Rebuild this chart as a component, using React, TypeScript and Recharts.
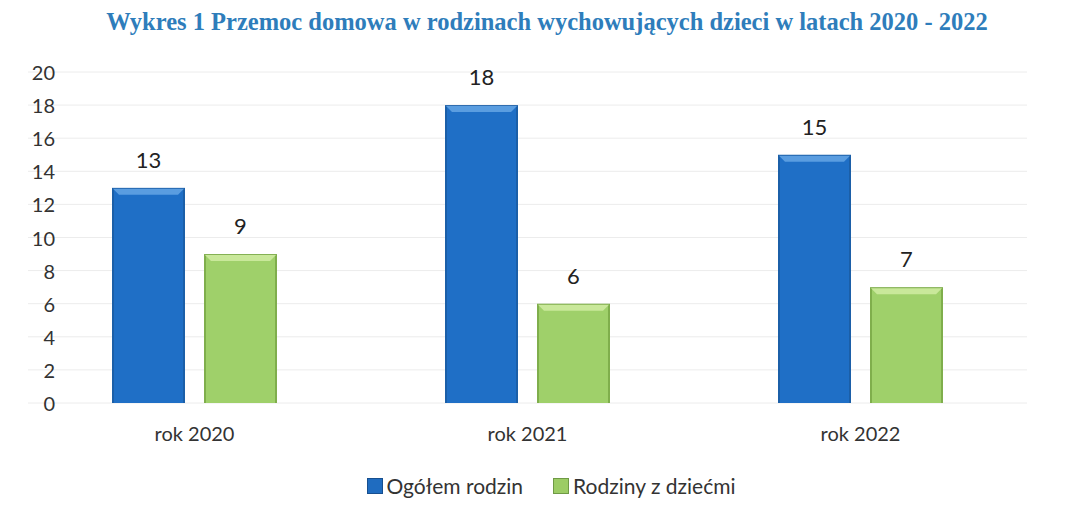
import { BarChart, Bar, XAxis, YAxis, CartesianGrid, LabelList } from "recharts"

const years = ["rok 2020", "rok 2021", "rok 2022"]
const ogolemRodzin = [13, 18, 15]
const rodzinyZDziecmi = [9, 6, 7]
const yTicks = [0, 2, 4, 6, 8, 10, 12, 14, 16, 18, 20]

const seriesNames = { ogolem: "Ogółem rodzin", dzieci: "Rodziny z dziećmi" }

const FONT = "Lato, 'Open Sans', sans-serif"

const data = years.map((year, i) => ({
  year,
  ogolem: ogolemRodzin[i],
  dzieci: rodzinyZDziecmi[i],
}))

// bevelled bar similar to the Excel "cool slant" effect
const BevelBar = (props: any) => {
  const { x, y, width, height, dark, main, light } = props
  if (!height || height <= 0) return null
  const b = 6
  return (
    <g>
      <rect x={x} y={y} width={width} height={height} fill={dark} />
      <rect x={x + 2} y={y + 2} width={width - 4} height={height - 2} fill={main} />
      <polygon
        points={`${x + 1},${y + 1} ${x + width - 1},${y + 1} ${x + width - 1 - b},${y + b + 1} ${x + 1 + b},${y + b + 1}`}
        fill={light}
      />
    </g>
  )
}

const YTick = ({ y, payload }: any) => (
  <text x={55} y={y} textAnchor="end" dominantBaseline="central" fontSize={20} fill="#333" fontFamily={FONT}>
    {payload.value}
  </text>
)

const LegendContent = () => (
  <div style={{ display: "flex", justifyContent: "center", gap: 30, fontFamily: FONT, fontSize: 21, color: "#333" }}>
    {[
      { name: seriesNames.ogolem, color: "#1f6cc0", edge: "#174f8f" },
      { name: seriesNames.dzieci, color: "#9ccc65", edge: "#6f9a45" },
    ].map((it) => (
      <div key={it.name} style={{ display: "flex", alignItems: "center", gap: 4 }}>
        <span style={{ display: "inline-block", width: 14, height: 14, background: it.color, border: `1px solid ${it.edge}` }} />
        <span>{it.name}</span>
      </div>
    ))}
  </div>
)

export default function App() {
  return (
    <div style={{ margin: -8, width: 1090, height: 517, background: "#fff", position: "relative" }}>
      <div
        style={{
          position: "absolute",
          top: 8,
          left: 0,
          width: 1094,
          textAlign: "center",
          fontFamily: "'Liberation Serif', 'Times New Roman', serif",
          fontWeight: "bold",
          fontSize: 24.5,
          color: "#2e7dbb",
          zIndex: 1,
        }}
      >
        Wykres 1 Przemoc domowa w rodzinach wychowujących dzieci w latach 2020 - 2022
      </div>
      <div style={{ position: "absolute", top: 473, left: 6, width: 1090, zIndex: 1 }}>
        <LegendContent />
      </div>
      <BarChart
        width={1090}
        height={517}
        data={data}
        margin={{ top: 72, right: 63, bottom: 84, left: 0 }}
        barGap={19}
        barSize={73}
      >
        <CartesianGrid vertical={false} stroke="#ececec" />
        <XAxis
          dataKey="year"
          height={30}
          axisLine={false}
          tickLine={false}
          tick={{ fontSize: 20, fill: "#333", fontFamily: FONT, dy: 16 }}
          interval={0}
        />
        <YAxis
          width={28}
          domain={[0, 20]}
          ticks={yTicks}
          axisLine={false}
          tickLine={false}
          tick={<YTick />}
          interval={0}
        />
        <Bar
          dataKey="ogolem"
          name={seriesNames.ogolem}
          isAnimationActive={false}
          shape={(p: any) => <BevelBar {...p} dark="#1b5fa8" main="#1f6fc6" light="#5a9de0" />}
        >
          <LabelList dataKey="ogolem" position="top" offset={20} fontSize={22} fill="#222" fontFamily={FONT} />
        </Bar>
        <Bar
          dataKey="dzieci"
          name={seriesNames.dzieci}
          isAnimationActive={false}
          shape={(p: any) => <BevelBar {...p} dark="#7fae4c" main="#9fd06a" light="#c9e89a" />}
        >
          <LabelList dataKey="dzieci" position="top" offset={20} fontSize={22} fill="#222" fontFamily={FONT} />
        </Bar>
      </BarChart>
    </div>
  )
}
